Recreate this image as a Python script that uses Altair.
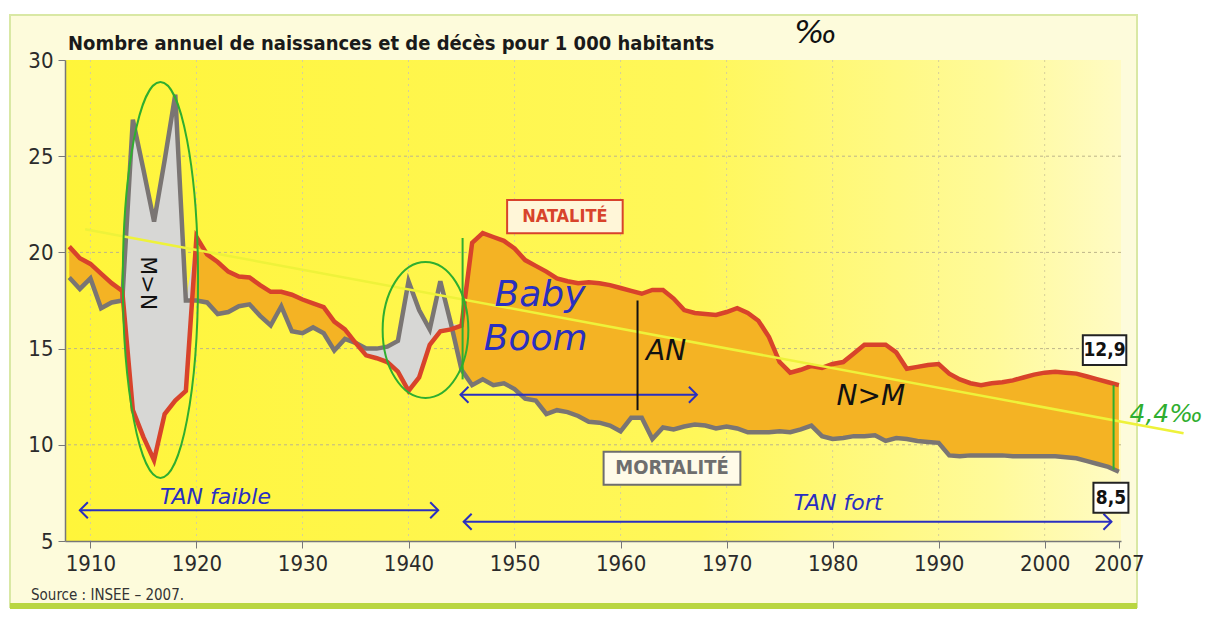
import altair as alt
import pandas as pd

annees = list(range(1908, 2008))
natalite = [
    20.3, 19.7, 19.4, 18.9, 18.4, 18.0, 11.8, 10.4, 9.2, 11.6,
    12.3, 12.8, 20.8, 19.9, 19.5, 19.0, 18.75, 18.7, 18.3, 17.95,
    17.95, 17.8, 17.55, 17.35, 17.15, 16.4, 16.0, 15.3, 14.65, 14.5,
    14.3, 13.8, 12.8, 13.5, 15.2, 15.9, 16.0, 16.2, 20.5, 21.0,
    20.8, 20.6, 20.2, 19.6, 19.3, 19.0, 18.65, 18.5, 18.4, 18.45,
    18.4, 18.3, 18.15, 18.0, 17.85, 18.05, 18.05, 17.6, 17.0, 16.85,
    16.8, 16.75, 16.9, 17.1, 16.85, 16.45, 15.6, 14.3, 13.75, 13.9,
    14.1, 14.0, 14.2, 14.3, 14.75, 15.2, 15.2, 15.2, 14.8, 13.95,
    14.05, 14.15, 14.2, 13.7, 13.4, 13.2, 13.1, 13.2, 13.25, 13.35,
    13.5, 13.65, 13.75, 13.8, 13.75, 13.7, 13.55, 13.4, 13.25, 13.1,
]
mortalite = [
    18.7, 18.1, 18.65, 17.1, 17.4, 17.5, 26.9, 24.3, 21.6, 24.8,
    28.2, 17.5, 17.5, 17.4, 16.8, 16.9, 17.2, 17.3, 16.7, 16.2,
    17.2, 15.9, 15.8, 16.1, 15.8, 14.9, 15.5, 15.3, 15.0, 15.0,
    15.1, 15.4, 18.5, 17.0, 16.0, 18.5, 16.3, 13.9, 13.1, 13.4,
    13.1, 13.2, 12.9, 12.4, 12.3, 11.6, 11.8, 11.7, 11.5, 11.2,
    11.15, 11.0, 10.7, 11.4, 11.4, 10.3, 10.9, 10.8, 10.95, 11.05,
    11.0, 10.85, 10.95, 10.85, 10.65, 10.65, 10.65, 10.7, 10.65, 10.8,
    11.0, 10.45, 10.3, 10.35, 10.45, 10.45, 10.5, 10.2, 10.35, 10.3,
    10.2, 10.15, 10.1, 9.45, 9.4, 9.45, 9.45, 9.45, 9.45, 9.4,
    9.4, 9.4, 9.4, 9.4, 9.35, 9.3, 9.15, 9.0, 8.85, 8.6,
]
ticks_x = [1910, 1920, 1930, 1940, 1950, 1960, 1970, 1980, 1990, 2000, 2007]
ticks_y = [5, 10, 15, 20, 25, 30]
grid_y = [10, 15, 20, 25]
grid_x = [1910, 1920, 1930, 1940, 1950, 1960, 1970, 1980, 1990, 2000]

W, H = 1056, 481
FONT = "Liberation Sans Narrow, DejaVu Sans Condensed, Arial Narrow, sans-serif"
HAND = "DejaVu Sans, sans-serif"

df = pd.DataFrame({"annee": annees, "natalite": natalite, "mortalite": mortalite})
xs = alt.Scale(domain=[1907.6, 2007.2], nice=False, zero=False)
ys = alt.Scale(domain=[5, 30], nice=False, zero=False)

AX = dict(
    title=None, grid=False, domainColor="#777777", domainWidth=1.5,
    tickColor="#777777", tickSize=7, labelFontSize=22, labelColor="#2b2b2b",
    labelFont=FONT, labelPadding=5, zindex=2,
)
XAX = alt.Axis(values=ticks_x, format="d", **AX)
YAX = alt.Axis(values=ticks_y, **AX)


def X(f="annee"):
    return alt.X(f"{f}:Q", scale=xs, axis=XAX)


def Y(f):
    return alt.Y(f"{f}:Q", scale=ys, axis=YAX)


one = pd.DataFrame({"k": [0]})

frame = alt.Chart(one).mark_rect(fill="#fdfbdb", stroke="#d9e8a4", strokeWidth=2).encode(
    x=alt.value(-55), x2=alt.value(W + 16), y=alt.value(-45), y2=alt.value(547)
)
band = alt.Chart(one).mark_rule(color="#b9d640", strokeWidth=6).encode(
    x=alt.value(-55), x2=alt.value(W + 16), y=alt.value(546)
)
bg = alt.Chart(one).mark_rect(
    color=alt.LinearGradient(
        gradient="linear",
        stops=[
            alt.GradientStop(color="#fff53a", offset=0),
            alt.GradientStop(color="#fff75a", offset=0.6),
            alt.GradientStop(color="#fffa9a", offset=0.88),
            alt.GradientStop(color="#fffbc4", offset=1),
        ],
        x1=0, x2=1, y1=0, y2=0,
    )
).encode(x=alt.value(0), x2=alt.value(W), y=alt.value(0), y2=alt.value(H))

gy = alt.Chart(pd.DataFrame({"v": grid_y})).mark_rule(
    color="#bdb58a", strokeDash=[3, 3], strokeWidth=1
).encode(y=Y("v"))
gx = alt.Chart(pd.DataFrame({"v": grid_x})).mark_rule(
    color="#d6cf9a", strokeDash=[2, 4], strokeWidth=1
).encode(x=X("v"))

orange = alt.Chart(df).mark_area(color="#f4b324").encode(
    x=X(), y=Y("natalite"), y2="mortalite:Q"
)
grey = alt.Chart(df).transform_calculate(
    hi="max(datum.natalite, datum.mortalite)"
).mark_area(color="#d7d7d5").encode(x=X(), y=Y("natalite"), y2="hi:Q")

line_m = alt.Chart(df).mark_line(color="#7a7573", strokeWidth=4.5).encode(
    x=X(), y=Y("mortalite")
)
line_n = alt.Chart(df).mark_line(color="#d8432b", strokeWidth=4.5).encode(
    x=X(), y=Y("natalite")
)

# hand-drawn annotations
yellow = alt.Chart(pd.DataFrame({"x": [1909.5], "y": [21.2], "x2": [2013.1], "y2": [10.6]})).mark_rule(
    color="#eef23a", strokeWidth=2.5
).encode(x=X("x"), y=Y("y"), x2="x2:Q", y2="y2:Q")

ell1 = "M -0.19 0 A 0.19 1 0 1 0 0.19 0 A 0.19 1 0 1 0 -0.19 0 Z"
ell2 = "M -0.63 0 A 0.63 1 0 1 0 0.63 0 A 0.63 1 0 1 0 -0.63 0 Z"
e1 = alt.Chart(pd.DataFrame({"x": [1916.6], "y": [18.57]})).mark_point(
    shape=ell1, size=156816, filled=False, stroke="#2fae2f", strokeWidth=2, opacity=1
).encode(x=X("x"), y=Y("y"))
e2 = alt.Chart(pd.DataFrame({"x": [1941.6], "y": [15.97]})).mark_point(
    shape=ell2, size=18496, filled=False, stroke="#2fae2f", strokeWidth=2, opacity=1
).encode(x=X("x"), y=Y("y"))

seg = pd.DataFrame({
    "x": [1909.0, 1945.2, 1944.9, 1945.1, 2006.5, 1961.6],
    "x2": [1942.8, 2006.3, 1967.2, 1945.1, 2006.5, 1961.6],
    "y": [6.6, 6.0, 12.6, 20.75, 13.1, 17.5],
    "y2": [6.6, 6.0, 12.6, 13.4, 8.7, 11.8],
    "c": ["#2a2fc0", "#2a2fc0", "#2a2fc0", "#2fae2f", "#2fae2f", "#111111"],
})
segs = alt.Chart(seg).mark_rule(strokeWidth=2).encode(
    x=X("x"), x2="x2:Q", y=Y("y"), y2="y2:Q", color=alt.Color("c:N", scale=None)
)

left_head = "M 1 -1 L 0 0 L 1 1"
right_head = "M -1 -1 L 0 0 L -1 1"
lh = alt.Chart(pd.DataFrame({"x": [1909.0, 1945.2, 1944.9], "y": [6.6, 6.0, 12.6]})).mark_point(
    shape=left_head, size=256, filled=False, stroke="#2a2fc0", strokeWidth=2, opacity=1
).encode(x=X("x"), y=Y("y"))
rh = alt.Chart(pd.DataFrame({"x": [1942.8, 2006.3, 1967.2], "y": [6.6, 6.0, 12.6]})).mark_point(
    shape=right_head, size=256, filled=False, stroke="#2a2fc0", strokeWidth=2, opacity=1
).encode(x=X("x"), y=Y("y"))

notes = pd.DataFrame({
    "x": [1952.4, 1952.0, 1964.3, 1983.6, 1921.8, 1980.5, 1978.4],
    "y": [17.8, 15.5, 14.8, 12.5, 7.3, 7.0, 31.4],
    "t": ["Baby", "Boom", "AN", "N>M", "TAN faible", "TAN fort", "‰"],
    "c": ["#2a2fc0", "#2a2fc0", "#111111", "#111111", "#2a2fc0", "#2a2fc0", "#111111"],
    "s": [36, 36, 28, 28, 22, 22, 32],
})
note_txt = alt.Chart(notes).mark_text(font=HAND, fontStyle="italic", baseline="middle").encode(
    x=X("x"), y=Y("y"), text="t:N", color=alt.Color("c:N", scale=None),
    size=alt.Size("s:Q", scale=None, legend=None),
)
pm = alt.Chart(pd.DataFrame({"x": [2008.0], "y": [11.6], "t": ["4,4‰"]})).mark_text(
    font=HAND, fontStyle="italic", fontSize=25, color="#2fae2f", align="left", baseline="middle"
).encode(x=X("x"), y=Y("y"), text="t:N")
mn = alt.Chart(pd.DataFrame({"x": [1915.4], "y": [18.4], "t": ["M>N"]})).mark_text(
    font=HAND, fontSize=22, angle=90, color="#111111", baseline="middle"
).encode(x=X("x"), y=Y("y"), text="t:N")

# printed labels in boxes
boxes = pd.DataFrame({
    "x": [1949.3, 1958.4, 2003.6, 2004.6],
    "x2": [1960.2, 1971.3, 2007.7, 2007.9],
    "y": [22.72, 9.64, 15.7, 8.03],
    "y2": [21.0, 7.93, 14.15, 6.47],
    "c": ["#d8432b", "#6e6e6e", "#222222", "#222222"],
    "f": ["#fff6d8", "#fffbe8", "#ffffff", "#ffffff"],
})
box_rect = alt.Chart(boxes).mark_rect(strokeWidth=2).encode(
    x=X("x"), x2="x2:Q", y=Y("y"), y2="y2:Q",
    stroke=alt.Color("c:N", scale=None), fill=alt.Color("f:N", scale=None),
)
labels = pd.DataFrame({
    "x": [1954.75, 1964.85, 2005.65, 2006.25],
    "y": [21.86, 8.78, 14.92, 7.25],
    "t": ["NATALITÉ", "MORTALITÉ", "12,9", "8,5"],
    "c": ["#d8432b", "#6e6e6e", "#111111", "#111111"],
    "s": [18, 20, 19, 19],
})
label_txt = alt.Chart(labels).mark_text(font=FONT, fontWeight="bold", baseline="middle").encode(
    x=X("x"), y=Y("y"), text="t:N", color=alt.Color("c:N", scale=None),
    size=alt.Size("s:Q", scale=None, legend=None),
)

title = alt.Chart(one).mark_text(
    text="Nombre annuel de naissances et de décès pour 1 000 habitants",
    font=FONT, fontSize=20, fontWeight="bold", color="#1a1a1a", align="left", baseline="middle",
).encode(x=alt.value(3), y=alt.value(-16))
source = alt.Chart(one).mark_text(
    text="Source : INSEE – 2007.", font=FONT, fontSize=15, color="#333333",
    align="left", baseline="middle",
).encode(x=alt.value(-34), y=alt.value(535))

chart = alt.layer(
    frame, band, bg, gy, gx, orange, grey, line_m, line_n,
    yellow, e1, e2, segs, lh, rh, note_txt, pm, mn,
    box_rect, label_txt, title, source,
).properties(
    width=W, height=H,
    padding={"left": 57, "top": 52, "right": 90, "bottom": 68},
    autosize=alt.AutoSizeParams(type="none"),
    background="#ffffff",
).configure_view(stroke=None)

chart.save("out.html", embed_options={"renderer": "svg", "actions": False})
